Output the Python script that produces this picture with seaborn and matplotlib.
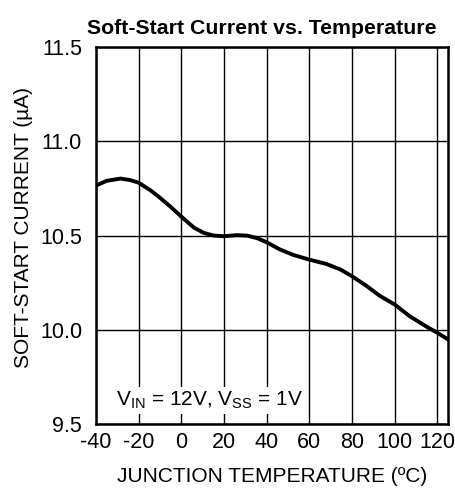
import matplotlib
matplotlib.use("Agg")
import matplotlib.pyplot as plt
import numpy as np
import pandas as pd
import seaborn as sns

# values
temp_c = [-40, -35, -28.5, -24, -20, -14.5, -10, -5, 0, 6, 10.5, 15, 20, 26, 31, 35.5,
          40, 46, 52.5, 60, 68, 74.5, 80, 87, 93, 100, 107, 115, 120, 125]
current_ua = [10.765, 10.790, 10.802, 10.794, 10.780, 10.740, 10.700, 10.652, 10.600,
              10.541, 10.514, 10.500, 10.496, 10.502, 10.499, 10.486, 10.464, 10.427,
              10.397, 10.372, 10.349, 10.320, 10.284, 10.231, 10.180, 10.134, 10.072,
              10.016, 9.984, 9.949]
x_ticks = [-40, -20, 0, 20, 40, 60, 80, 100, 120]
y_ticks = [9.5, 10.0, 10.5, 11.0, 11.5]

df = pd.DataFrame({'temp': temp_c, 'current': current_ua})

sns.set_style('white')
plt.rcParams['font.family'] = ['Liberation Sans', 'DejaVu Sans']
plt.rcParams['mathtext.fontset'] = 'custom'
plt.rcParams['mathtext.rm'] = 'Liberation Sans'
plt.rcParams['mathtext.it'] = 'Liberation Sans'
plt.rcParams['axes.unicode_minus'] = False
plt.rcParams['text.color'] = 'black'
plt.rcParams['axes.labelcolor'] = 'black'

fig = plt.figure(figsize=(4.55, 4.92), dpi=100)
ax = fig.add_axes([96/455, 1-424/492, (448-96)/455, (424-47)/492])

sns.lineplot(data=df, x='temp', y='current', color='black', linewidth=2.8, ax=ax, zorder=3)

ax.set_xlim(-40, 125)
ax.set_ylim(9.5, 11.5)
ax.set_xticks(x_ticks)
ax.set_yticks(y_ticks)
ax.set_yticklabels(['%.1f' % v for v in y_ticks])
ax.grid(True, color='black', linewidth=1.0)
ax.tick_params(length=0, labelsize=15.5, colors='black')
ax.tick_params(axis='y', pad=10)
ax.tick_params(axis='x', pad=6)
for s in ax.spines.values():
    s.set_color('black')
    s.set_linewidth(1.8)

ax.set_xlabel('JUNCTION TEMPERATURE (ºC)', fontsize=15, labelpad=10, color='black')
ax.set_ylabel('SOFT-START CURRENT (µA)', fontsize=15, color='black')
ax.yaxis.set_label_coords(-0.18, 0.52)
ax.set_title('Soft-Start Current vs. Temperature', fontsize=15.3, fontweight='bold',
             pad=9, x=0.472, color='black')

ax.text(-30.5, 9.57, r'V$_{\mathrm{IN}}$ = 12V, V$_{\mathrm{SS}}$ = 1V', fontsize=15,
        ha='left', va='bottom', zorder=4, color='black',
        bbox=dict(facecolor='white', edgecolor='none', pad=2))

fig.savefig('out.png', dpi=100)
